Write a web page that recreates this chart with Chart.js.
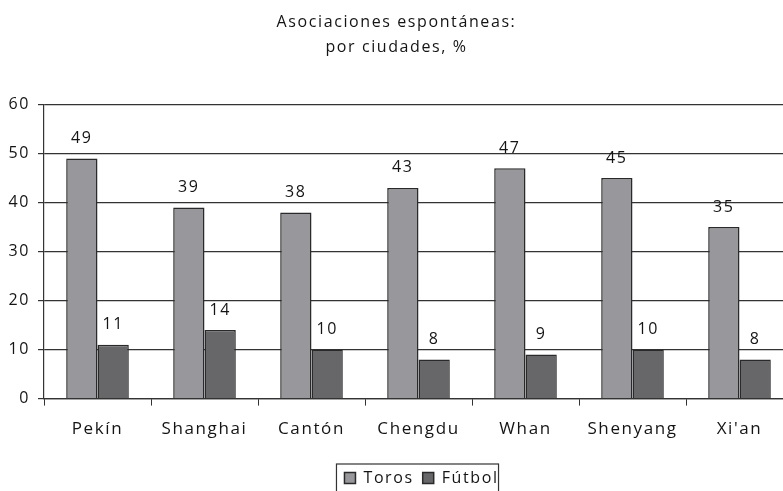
<!DOCTYPE html>
<html>
<head>
<meta charset="utf-8">
<script src="https://cdn.jsdelivr.net/npm/chart.js@4.4.1/dist/chart.umd.min.js"></script>
<style>
  html, body { margin: 0; padding: 0; background: #fff; overflow: hidden; }
  #wrap { position: relative; width: 793px; height: 496px; }
</style>
</head>
<body>
<div id="wrap"><canvas id="c"></canvas></div>
<script>
// datos
const CITIES = ['Pekín', 'Shanghai', 'Cantón', 'Chengdu', 'Whan', 'Shenyang', "Xi'an"];
const TOROS  = [49, 39, 38, 43, 47, 45, 35];
const FUTBOL = [11, 14, 10, 8, 9, 10, 8];
const SERIES = ['Toros', 'Fútbol'];
const TITLE  = ['Asociaciones espontáneas:', 'por ciudades, %'];

const INK = '#141414';
const FONT = '"Open Sans", "Noto Sans", sans-serif';

// espaciado de letras como en el original
const spacing = {
  id: 'spacing',
  beforeLayout(chart) { chart.ctx.letterSpacing = '1.6px'; },
  beforeDraw(chart)   { chart.ctx.letterSpacing = '1.6px'; },
};

// la leyenda está algo desplazada a la derecha
const legendShift = {
  id: 'legendShift',
  afterLayout(chart) {
    chart.legend.left += 25;
    chart.legend.right += 25;
  }
};

// etiquetas de valor encima de cada barra
const valueLabels = {
  id: 'valueLabels',
  afterDatasetsDraw(chart) {
    const ctx = chart.ctx;
    ctx.save();
    ctx.font = `16px ${FONT}`;
    ctx.fillStyle = INK;
    ctx.textAlign = 'center';
    ctx.textBaseline = 'middle';
    chart.data.datasets.forEach((ds, i) => {
      chart.getDatasetMeta(i).data.forEach((bar, j) => {
        ctx.fillText(ds.data[j], bar.x, bar.y - 20);
      });
    });
    ctx.restore();
  }
};

// marco de la leyenda
const legendFrame = {
  id: 'legendFrame',
  afterDraw(chart) {
    const boxes = chart.legend.legendHitBoxes;
    if (!boxes || !boxes.length) return;
    const first = boxes[0], last = boxes[boxes.length - 1];
    const x0 = first.left - 8, x1 = last.left + last.width;
    const y0 = first.top - 6;
    const ctx = chart.ctx;
    ctx.save();
    ctx.strokeStyle = '#333';
    ctx.lineWidth = 1.2;
    ctx.strokeRect(x0, y0, x1 - x0, 60);
    ctx.restore();
  }
};

new Chart(document.getElementById('c'), {
  type: 'bar',
  data: {
    labels: CITIES,
    datasets: [
      { label: SERIES[0], data: TOROS,  backgroundColor: '#98989c', borderColor: '#2a2a2a', borderWidth: 1.5 },
      { label: SERIES[1], data: FUTBOL, backgroundColor: '#67676a', borderColor: '#2a2a2a', borderWidth: 1.5 },
    ]
  },
  options: {
    responsive: true,
    maintainAspectRatio: false,
    animation: false,
    datasets: { bar: { categoryPercentage: 0.585, barPercentage: 1 } },
    layout: { padding: 0 },
    plugins: {
      title: {
        display: true,
        text: TITLE,
        color: INK,
        font: { family: FONT, size: 16, weight: 'normal', lineHeight: 1.55 },
        padding: { top: 10, bottom: 45 }
      },
      legend: {
        position: 'bottom',
        labels: {
          color: INK,
          font: { family: FONT, size: 16 },
          boxWidth: 11,
          boxHeight: 11,
          padding: 9
        }
      },
      tooltip: { enabled: false }
    },
    scales: {
      x: {
        afterFit(s) { s.height += 9; },
        grid: { display: true, drawOnChartArea: false, color: '#333', tickLength: 7, offset: true },
        border: { color: '#333', width: 1.2 },
        ticks: { color: INK, font: { family: FONT, size: 17 }, padding: 13, maxRotation: 0 }
      },
      y: {
        min: 0, max: 60,
        afterFit(s) { s.width = 44; },
        grid: { color: '#333', lineWidth: 1.2, tickLength: 6 },
        border: { color: '#333', width: 1.2 },
        ticks: { stepSize: 10, color: INK, font: { family: FONT, size: 16 }, padding: 8 }
      }
    }
  },
  plugins: [spacing, legendShift, valueLabels, legendFrame]
});
</script>
</body>
</html>
